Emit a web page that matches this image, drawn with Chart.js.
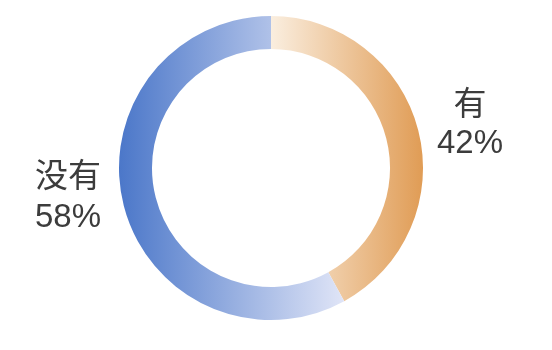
<!DOCTYPE html>
<html>
<head>
<meta charset="utf-8">
<script src="https://cdn.jsdelivr.net/npm/chart.js@4"></script>
<style>
html,body{margin:0;padding:0;background:#fff;}
#wrap{width:552px;height:350px;}
</style>
</head>
<body>
<div id="wrap"><canvas id="c" width="552" height="350"></canvas></div>
<script>
const categories = ['有', '没有'];
const values = [42, 58];
const percentLabels = ['42%', '58%'];

const gradStops = [
  ['#faeedf', '#e09c55'],  // 有: light -> dark (left -> right)
  ['#4b77c9', '#e0e5f7']   // 没有: dark -> light (left -> right)
];

function geom(chart) {
  const a = chart.chartArea;
  const cx = (a.left + a.right) / 2, cy = (a.top + a.bottom) / 2;
  const r = Math.min(a.right - a.left, a.bottom - a.top) / 2;
  return {cx, cy, r};
}

function sliceGradient(ctx) {
  const chart = ctx.chart;
  if (!chart.chartArea) return gradStops[ctx.dataIndex][0];
  const {cx, cy, r} = geom(chart);
  const total = values.reduce((s, v) => s + v, 0);
  let start = 0;
  for (let i = 0; i < ctx.dataIndex; i++) start += values[i];
  const end = start + values[ctx.dataIndex];
  let minX = Infinity, maxX = -Infinity;
  for (let k = 0; k <= 200; k++) {
    const f = (start + (end - start) * k / 200) / total;
    const x = cx + r * Math.sin(f * 2 * Math.PI);
    minX = Math.min(minX, x); maxX = Math.max(maxX, x);
  }
  const g = chart.ctx.createLinearGradient(minX, 0, maxX, 0);
  g.addColorStop(0, gradStops[ctx.dataIndex][0]);
  g.addColorStop(1, gradStops[ctx.dataIndex][1]);
  return g;
}

const labelPlugin = {
  id: 'outerLabels',
  afterDraw(chart) {
    const {cx, cy, r} = geom(chart);
    const c = chart.ctx;
    c.save();
    c.fillStyle = '#3c3c3c';
    c.font = '33px "Liberation Sans", "Noto Sans CJK SC", sans-serif';
    c.textAlign = 'center';
    c.textBaseline = 'middle';
    const offsets = [[199, -62, 38], [-203, 10, 40]];
    categories.forEach((cat, i) => {
      const [dx, dy, lh] = offsets[i];
      c.fillText(cat, cx + dx, cy + dy);
      c.fillText(percentLabels[i], cx + dx, cy + dy + lh);
    });
    c.restore();
  }
};

new Chart(document.getElementById('c'), {
  type: 'doughnut',
  data: {
    labels: categories,
    datasets: [{
      data: values,
      backgroundColor: sliceGradient,
      borderWidth: 0,
      hoverOffset: 0
    }]
  },
  options: {
    responsive: false,
    animation: false,
    cutout: '78.3%',
    layout: {padding: {top: 16, bottom: 30, left: 119, right: 129}},
    plugins: {legend: {display: false}, tooltip: {enabled: false}}
  },
  plugins: [labelPlugin]
});
</script>
</body>
</html>
